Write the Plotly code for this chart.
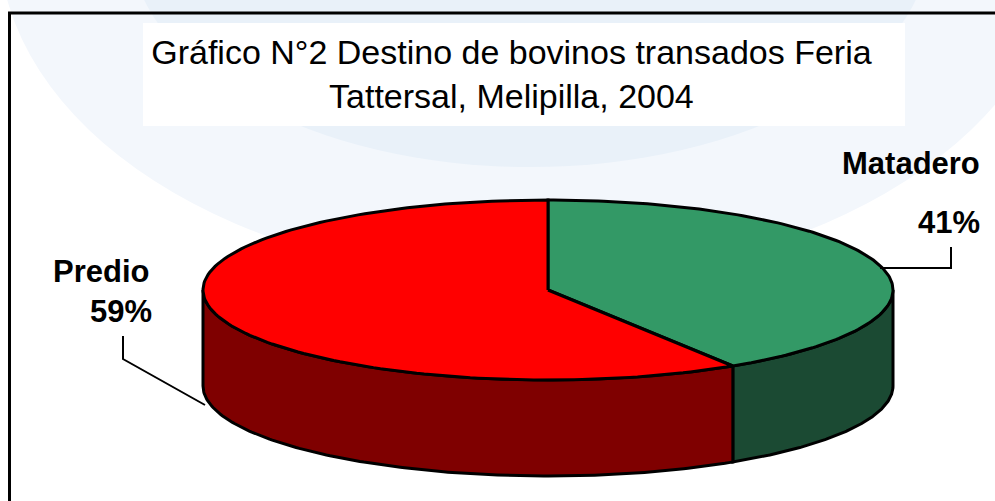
import numpy as np
import plotly.graph_objects as go

categories = ["Matadero", "Predio"]
values = [41, 59]
top_colors = ["#339966", "#ff0000"]
side_colors = ["#1b4a33", "#7f0000"]
title_text = "Gráfico N°2 Destino de bovinos transados Feria<br>Tattersal, Melipilla, 2004"

CX, CY, RX, RY, DEPTH = 548, 290, 345, 90, 96
EDGE = "#000000"


def rim(a, b, dy=0):
    t = np.radians(np.linspace(a, b, 160))
    return CX + RX * np.sin(t), CY + dy - RY * np.cos(t)


fig = go.Figure()

shares = np.array(values) / sum(values) * 360
starts = np.concatenate([[0], np.cumsum(shares)[:-1]])
ends = np.cumsum(shares)

# Walls first (only the front half of the rim is visible), then the top faces.
for name, a, b, col in zip(categories, starts, ends, side_colors):
    lo, hi = max(a, 90), min(b, 270)
    x1, y1 = rim(lo, hi)
    x2, y2 = rim(hi, lo, DEPTH)
    fig.add_trace(go.Scatter(
        x=np.r_[x1, x2, x1[0]], y=np.r_[y1, y2, y1[0]], mode="lines", fill="toself",
        fillcolor=col, line=dict(color=EDGE, width=3), name=name, showlegend=False,
        hoverinfo="skip"))

for name, val, a, b, col in zip(categories, values, starts, ends, top_colors):
    x1, y1 = rim(a, b)
    fig.add_trace(go.Scatter(
        x=np.r_[CX, x1, CX], y=np.r_[CY, y1, CY], mode="lines", fill="toself",
        fillcolor=col, line=dict(color=EDGE, width=3), name=name, showlegend=False,
        hovertemplate=f"{name}: {val}%<extra></extra>"))

shapes = [
    # faint seal behind the chart: lighter outer ring, flat inner disc
    dict(type="circle", x0=-1, x1=1061, y0=-401, y1=281, fillcolor="#f3f7fc", line_width=0, layer="below"),
    dict(type="circle", x0=130, x1=930, y0=-287, y1=167, fillcolor="#e9f1f9", line_width=0, layer="below"),
    # white title panel
    dict(type="rect", x0=143, x1=905, y0=23, y1=126, fillcolor="#ffffff", line_width=0, layer="below"),
    # frame
    dict(type="line", x0=8, x1=995, y0=13, y1=13, line=dict(color="#000", width=3)),
    dict(type="line", x0=9.5, x1=9.5, y0=12, y1=501, line=dict(color="#000", width=3)),
    # leader lines
    dict(type="path", path="M 880 268 L 951 268 L 951 247", line=dict(color="#000", width=2)),
    dict(type="path", path="M 123 336 L 123 359 L 205 405", line=dict(color="#000", width=2)),
]

ann = []
label_font = dict(family="Liberation Sans", size=31, color="#000")
ann.append(dict(x=982, y=163, text=f"<b>{categories[0]}</b>", xanchor="right", yanchor="middle", showarrow=False, font=label_font))
ann.append(dict(x=982, y=222, text=f"<b>{values[0]}%</b>", xanchor="right", yanchor="middle", showarrow=False, font=label_font))
ann.append(dict(x=151, y=271, text=f"<b>{categories[1]}</b>", xanchor="right", yanchor="middle", showarrow=False, font=label_font))
ann.append(dict(x=154, y=311, text=f"<b>{values[1]}%</b>", xanchor="right", yanchor="middle", showarrow=False, font=label_font))

fig.update_layout(
    width=995, height=501, margin=dict(l=0, r=0, t=0, b=0), autosize=False,
    paper_bgcolor="#ffffff", plot_bgcolor="#ffffff", showlegend=False,
    title=dict(text=title_text, x=0.514, xanchor="center", y=0.873, yanchor="top",
               font=dict(family="Liberation Sans", size=34, color="#000")),
    xaxis=dict(range=[0, 995], visible=False, fixedrange=True),
    yaxis=dict(range=[501, 0], visible=False, fixedrange=True),
    shapes=shapes, annotations=ann)

fig.write_html("out.html", config=dict(displayModeBar=False),
               post_script="document.body.style.margin='0';document.body.style.overflow='hidden';")
